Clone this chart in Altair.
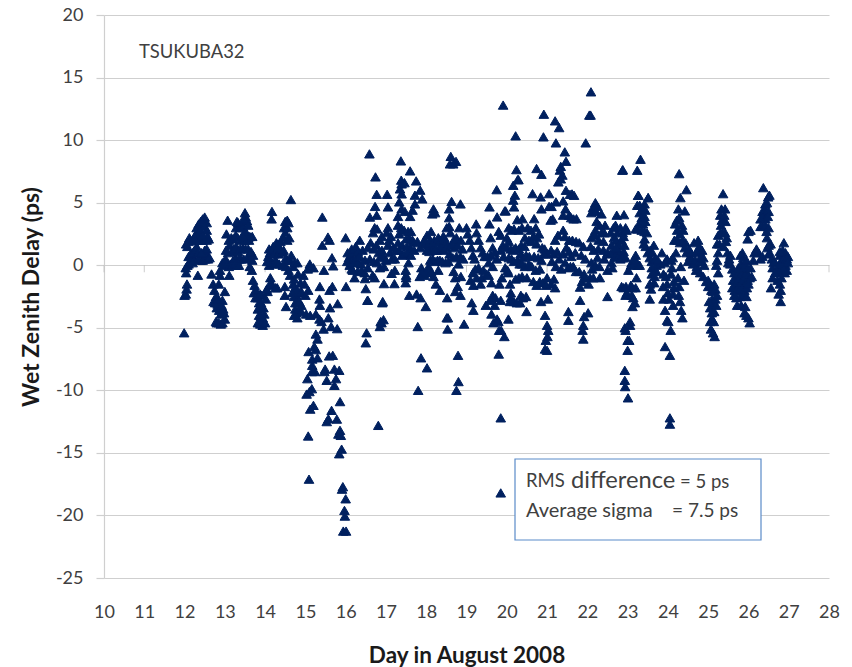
import altair as alt
import pandas as pd

DAY_12 = [(11.99,-5.4),(12.0,-2.4),(12.03,-2.3),(12.05,-1.9),(12.06,-1.5),(12.04,-0.6),(12.03,-0.2),(12.07,0.0),(12.1,0.1),(12.13,0.3),(12.17,0.3),(12.2,0.5),(12.25,0.5),(12.1,0.7),(12.15,0.9),(12.2,1.0),(12.25,1.2),(12.07,1.5),(12.04,1.7),(12.1,1.9),(12.12,2.2),(12.3,1.5),(12.33,1.0),(12.36,0.6),(12.4,0.4),(12.45,0.4),(12.48,0.5),(12.52,0.5),(12.55,0.9),(12.58,0.5),(12.5,1.2),(12.55,1.3),(12.2,2.0),(12.25,2.3),(12.3,2.6),(12.35,2.1),(12.4,2.0),(12.45,2.0),(12.5,2.1),(12.55,2.0),(12.6,2.1),(12.3,3.0),(12.35,3.3),(12.4,3.5),(12.45,3.7),(12.5,3.85),(12.55,3.4),(12.5,3.1),(12.55,2.8),(12.57,2.3),(12.28,2.0),(12.38,2.8),(12.44,2.4),(12.33,-0.8),(12.2,0.2),(12.42,1.0),(12.62,0.6)]
DAY_12B = [(12.67,-0.7),(12.88,-0.4),(12.71,-1.5),(12.74,-2.0),(12.78,-2.5),(12.82,-3.1),(12.86,-3.6),(12.72,-2.9),(12.9,-3.9),(12.8,-4.6),(12.85,-4.6),(12.9,-4.7),(12.94,-4.6),(13.0,-4.3),(12.76,-3.0),(12.8,-3.4),(12.92,-3.2),(12.96,-3.5),(12.98,-3.8),(13.0,-2.1),(12.85,-1.5),(13.11,-0.8),(12.88,-0.8),(12.94,-2.8),(12.84,-2.7),(12.78,-4.5)]
DAY_13 = [(12.94,0.2),(12.98,0.0),(13.02,0.5),(13.06,0.1),(13.1,-0.1),(13.14,0.1),(13.2,0.3),(13.25,0.6),(13.3,0.4),(13.35,0.5),(13.4,0.5),(13.47,0.5),(13.55,0.6),(13.62,0.6),(13.68,0.4),(13.7,0.8),(13.03,1.2),(13.08,1.0),(13.12,1.6),(13.18,1.1),(13.22,1.3),(13.28,1.5),(13.33,1.1),(13.38,1.3),(13.45,1.4),(13.52,1.3),(13.58,1.3),(13.65,1.1),(13.1,2.0),(13.16,2.2),(13.2,2.1),(13.27,2.4),(13.32,2.2),(13.4,2.0),(13.5,2.0),(13.58,2.2),(13.6,2.0),(13.04,2.5),(13.28,3.0),(13.33,3.4),(13.38,3.0),(13.42,3.3),(13.45,3.1),(13.5,2.6),(13.55,2.5),(13.62,2.3),(13.68,2.3),(13.07,3.6),(13.3,3.5),(13.5,3.6),(13.55,3.55),(13.52,3.85),(13.5,4.2),(13.46,3.7),(13.58,3.2),(13.44,2.4),(13.18,0.0),(13.25,0.1),(13.3,0.0),(13.35,0.0),(13.62,-0.1)]
DAY_13B = [(13.67,-0.4),(13.7,-1.2),(13.74,-1.6),(13.72,-2.2),(13.78,-2.0),(13.76,-2.6),(13.82,-2.6),(13.85,-3.0),(13.88,-2.3),(13.92,-2.4),(13.82,-3.5),(13.85,-3.4),(13.92,-3.3),(13.96,-3.4),(14.02,-2.7),(14.06,-2.1),(13.85,-4.0),(13.9,-4.1),(13.94,-4.2),(13.98,-3.9),(13.82,-4.6),(13.88,-4.7),(13.94,-4.8),(14.0,-4.6),(13.9,-3.0),(14.04,-1.9),(14.1,-1.6),(14.17,-1.5),(14.13,-1.0),(14.26,-1.8),(14.3,-1.8)]
DAY_14 = [(14.1,0.0),(14.15,0.3),(14.2,0.1),(14.25,0.4),(14.3,0.2),(14.35,0.1),(14.05,0.3),(14.08,0.7),(14.12,1.0),(14.17,1.2),(14.22,0.9),(14.27,1.2),(14.33,0.9),(14.38,1.3),(14.1,1.3),(14.2,1.5),(14.28,1.8),(14.33,1.5),(14.38,1.9),(14.42,1.0),(14.46,1.2),(14.52,0.6),(14.45,2.2),(14.5,2.6),(14.55,2.0),(14.47,3.0),(14.55,3.0),(14.58,3.4),(14.5,3.5),(14.55,3.6),(14.16,3.7),(14.17,4.3),(14.6,2.2),(14.62,0.4),(14.55,0.4),(14.7,-0.1),(14.65,0.8),(14.73,0.2),(14.8,0.2),(14.64,5.25),(14.44,0.0),(14.52,-0.1)]
DAY_14B = [(14.49,-1.7),(14.49,-2.4),(14.52,-3.3),(14.58,-0.4),(14.62,-0.8),(14.72,-1.1),(14.82,-0.7),(14.7,-1.5),(14.74,-1.8),(14.8,-2.0),(14.68,-2.2),(14.72,-2.5),(14.78,-2.4),(14.85,-2.2),(14.9,-2.1),(14.88,-1.4),(14.95,-0.8),(14.75,-3.0),(14.8,-3.0),(14.85,-2.9),(14.9,-3.2),(14.75,-3.5),(14.78,-3.8),(14.85,-3.6),(14.9,-3.7),(14.72,-4.0),(14.8,-4.2),(15.0,-2.4),(15.07,-2.0),(15.11,0.1),(15.2,-0.2),(14.98,-1.5),(15.12,-4.0),(15.06,-0.3),(15.02,-3.9)]
DAY_15 = [(15.07,-13.65),(15.09,-17.1),(15.05,-9.07),(15.03,-10.3),(15.1,-10.1),(15.16,-9.87),(15.12,-11.5),(15.2,-11.2),(15.16,-8.5),(15.24,-8.5),(15.17,-8.0),(15.17,-7.5),(15.3,-7.4),(15.22,-6.5),(15.26,-6.75),(15.26,-5.5),(15.3,-5.9),(15.45,-5.1),(15.4,-4.5),(15.35,-4.3),(15.26,-3.9),(15.36,-3.2),(15.35,-2.7),(15.36,-1.7),(15.6,-2.0),(15.67,-1.7),(15.46,-0.4),(15.69,-0.05),(16.01,-1.7),(15.8,-3.07),(15.61,-3.4),(15.57,-4.2),(15.64,-4.9),(15.79,-5.07),(15.59,-7.25),(15.68,-7.2),(15.49,-8.3),(15.47,-8.5),(15.53,-9.2),(15.72,-8.3),(15.84,-8.4),(15.76,-9.07),(15.72,-9.6),(15.86,-10.9),(15.65,-11.6),(15.78,-12.3),(15.53,-12.5),(15.57,-12.27),(15.86,-13.2),(15.82,-13.5),(15.88,-13.6),(15.9,-14.7),(15.84,-15.07),(15.93,-17.7),(15.91,-17.9),(16.0,-18.67),(15.97,-19.6),(15.98,-20.05),(15.94,-21.25),(16.01,-21.25),(15.42,3.85),(15.56,2.25),(15.6,2.0),(15.66,0.6),(15.42,1.6),(15.08,-6.9)]
DAY_16 = [(16.81,-12.8),(16.52,-5.4),(16.5,-6.2),(16.94,-4.35),(16.85,-4.9),(16.89,-4.6),(16.55,-2.8),(16.5,-1.87),(16.91,-3.0),(16.95,-1.47),(17.21,-1.47),(16.48,-1.07),(16.67,-0.8),(17.14,-0.65),(16.85,-0.2),(16.0,2.2),(16.05,1.0),(16.08,0.6),(16.12,0.8),(16.15,0.3),(16.04,0.3),(16.1,0.0),(16.15,-0.3),(16.2,0.2),(16.25,0.5),(16.3,0.2),(16.2,1.0),(16.15,1.3),(16.25,1.5),(16.3,1.1),(16.35,0.7),(16.18,-0.4),(16.22,-1.0),(16.3,-0.5),(16.38,0.1),(16.35,2.0),(16.42,1.2),(16.48,0.4),(16.4,-0.4),(16.47,-0.6),(16.55,-0.2),(16.6,0.5),(16.6,3.85),(16.59,8.9),(16.74,7.06),(16.77,5.67),(17.03,5.67),(16.73,4.7),(17.05,4.66),(16.77,4.0),(16.72,3.0),(16.68,2.6),(16.78,2.9),(16.85,2.0),(16.9,2.3),(16.62,1.8),(16.55,1.4),(16.7,1.3),(16.76,1.6),(16.82,1.0),(16.9,1.2),(16.95,0.7),(16.7,0.3),(16.78,0.2),(16.85,0.6),(16.95,-0.1),(17.0,0.4),(17.05,1.6),(17.02,2.6),(17.05,3.0),(17.08,2.0),(17.1,1.0),(17.15,0.5),(17.12,2.3),(17.18,1.4),(17.22,0.5),(17.22,-0.4),(16.92,-2.9),(16.87,-4.5),(16.54,-2.8),(16.72,-1.0)]
DAY_17 = [(17.37,8.34),(17.6,7.54),(17.75,6.74),(17.38,6.8),(17.39,6.5),(17.46,6.6),(17.35,6.1),(17.39,5.7),(17.85,6.0),(17.72,5.6),(17.9,5.3),(17.33,5.06),(17.72,4.9),(17.66,4.4),(17.39,4.5),(17.47,4.3),(17.6,3.9),(17.3,3.9),(17.3,3.2),(17.38,3.0),(17.33,2.5),(17.45,2.8),(17.55,2.7),(17.62,2.7),(17.5,2.1),(17.58,2.2),(17.66,2.0),(17.3,1.8),(17.4,1.6),(17.52,1.5),(17.6,1.4),(17.7,1.2),(17.25,1.2),(17.33,1.2),(17.4,0.8),(17.45,0.9),(17.55,1.0),(17.62,0.8),(17.7,1.8),(17.78,1.9),(17.85,1.4),(17.92,1.7),(17.49,-1.4),(17.58,-2.4),(17.76,-2.3),(17.86,-2.6),(17.99,-3.3),(17.79,-4.9),(17.49,-0.4),(17.5,-0.8),(17.56,0.2),(17.88,-0.2),(17.9,-0.6),(17.96,-0.8),(18.02,-0.6),(18.06,-0.1),(17.87,-7.4),(18.02,-8.2),(17.8,-10.0),(17.5,-1.0),(17.84,-0.9)]
DAY_18 = [(18.18,4.5),(18.22,4.2),(18.15,4.1),(18.63,5.1),(18.85,4.9),(18.57,4.5),(18.57,3.8),(18.61,8.7),(18.59,8.1),(18.74,8.3),(18.67,8.1),(17.95,2.0),(18.0,1.8),(18.05,1.6),(18.1,2.0),(18.15,1.6),(18.2,2.0),(18.25,1.8),(18.3,2.2),(18.35,2.0),(18.4,1.7),(18.45,2.2),(18.5,1.8),(18.02,2.4),(18.08,1.1),(18.14,1.2),(18.2,1.2),(18.26,1.2),(18.32,1.3),(18.38,1.4),(18.44,1.2),(18.5,1.4),(18.02,1.2),(18.1,0.4),(18.16,0.5),(18.22,0.3),(18.28,0.4),(18.34,0.4),(18.4,0.3),(18.48,0.2),(18.55,0.3),(18.12,2.7),(18.42,2.3),(18.51,3.0),(18.57,3.1),(18.6,2.6),(18.68,2.0),(18.62,1.6),(18.7,1.4),(18.75,2.2),(18.78,1.6),(18.82,3.0),(18.86,2.0),(18.9,1.3),(18.58,0.9),(18.66,0.6),(18.75,0.7),(18.8,0.1),(18.85,0.7),(18.92,0.5),(18.24,-1.5),(18.34,-2.0),(18.52,-2.6),(18.51,-4.2),(18.53,-5.1),(18.3,-0.4),(18.12,-0.5),(18.18,-0.9),(18.68,-0.5),(18.72,-1.0),(18.78,-1.7),(18.72,-2.1),(18.85,-2.4),(18.94,-4.7),(18.79,-7.2),(18.8,-9.3),(18.75,-10.0),(18.54,-4.2),(18.86,-0.9)]
DAY_19 = [(19.57,4.66),(19.75,6.04),(19.97,4.34),(19.76,3.86),(19.57,3.3),(19.0,3.0),(19.03,2.5),(19.08,2.0),(19.12,1.4),(19.16,0.8),(19.2,0.5),(19.25,2.6),(19.3,2.0),(19.35,1.4),(19.4,1.0),(19.45,0.7),(19.24,3.3),(19.3,-0.2),(19.22,-0.3),(19.16,-0.6),(19.1,-1.2),(19.25,-1.0),(19.17,-1.6),(19.13,-3.0),(19.17,-3.6),(19.48,-3.2),(19.62,-3.9),(19.76,-4.3),(19.67,-4.6),(19.81,-5.2),(19.94,-5.7),(19.6,2.2),(19.65,1.4),(19.6,0.8),(19.7,1.0),(19.55,0.2),(19.52,0.7),(19.65,-0.1),(19.75,0.5),(19.8,2.7),(19.85,2.4),(19.9,1.6),(19.85,1.2),(19.92,0.7),(19.5,-0.7),(19.42,-0.4),(19.38,-1.0),(19.35,-1.5),(19.55,-0.8),(19.62,-1.4),(19.65,-2.4),(19.72,-2.6),(19.58,-2.8),(19.82,-1.5),(19.88,-1.0),(19.96,-0.2),(20.02,-0.4),(19.85,-18.2),(19.85,-12.2),(19.8,-7.1),(19.86,-5.2),(19.79,-4.5),(19.91,12.8),(19.95,4.34),(19.7,-3.2),(19.85,-2.8)]
DAY_20 = [(20.24,7.64),(20.27,6.84),(20.16,6.39),(20.2,5.6),(20.16,5.2),(20.18,4.66),(20.74,7.73),(20.64,5.72),(20.92,12.07),(20.91,10.26),(20.22,10.34),(20.86,7.27),(20.29,6.84),(20.84,5.46),(20.26,3.64),(20.39,3.72),(20.68,3.72),(20.05,3.0),(20.12,2.8),(20.18,2.9),(20.3,2.8),(20.38,3.0),(20.52,3.0),(20.6,2.8),(20.72,3.0),(20.8,2.5),(20.66,2.3),(20.75,2.2),(20.45,2.2),(20.55,2.0),(20.62,1.9),(20.74,1.7),(20.0,1.4),(20.05,1.9),(20.1,1.3),(20.16,1.2),(20.22,1.4),(20.3,1.3),(20.36,1.6),(20.44,1.5),(20.88,1.4),(20.94,1.3),(21.0,0.9),(20.05,0.6),(20.12,0.5),(20.18,0.3),(20.27,0.4),(20.34,0.9),(20.4,0.6),(20.48,0.8),(20.56,0.7),(20.68,0.7),(20.78,0.6),(20.86,0.4),(20.92,0.9),(20.32,0.1),(20.38,0.1),(20.45,-0.1),(20.55,0.1),(20.62,-0.1),(20.72,-0.4),(20.82,-0.3),(20.04,-0.6),(20.08,-1.5),(20.1,-2.2),(20.22,-1.1),(20.3,-1.0),(20.38,-0.9),(20.5,-1.0),(20.66,-1.3),(20.74,-1.6),(20.82,-1.3),(20.9,-1.4),(20.98,-1.6),(20.1,-2.6),(20.18,-2.9),(20.25,-3.0),(20.35,-2.4),(20.4,-2.6),(20.48,-2.5),(20.49,-3.7),(20.33,-3.0),(20.08,-2.9),(20.04,-4.3),(20.95,-4.0),(20.95,-6.7),(21.0,-6.8),(20.97,-6.0),(21.0,-4.8),(21.03,-5.2),(21.01,-5.7),(20.85,-2.9),(20.0,2.2),(20.86,4.5)]
DAY_21 = [(21.2,11.54),(21.3,11.0),(21.22,9.78),(21.44,9.06),(21.47,8.31),(21.34,7.9),(21.32,7.6),(21.38,7.2),(21.34,6.9),(21.28,6.66),(21.05,5.72),(21.47,5.99),(21.57,5.67),(21.67,5.59),(21.62,5.7),(21.11,4.7),(21.22,5.06),(21.4,5.14),(21.05,4.7),(21.46,4.5),(21.4,4.0),(21.09,3.6),(21.14,3.7),(21.55,4.0),(21.6,3.8),(21.66,3.7),(21.73,3.72),(21.2,2.0),(21.27,2.4),(21.4,2.8),(21.44,2.3),(21.55,2.0),(21.63,2.0),(21.72,1.9),(21.8,1.8),(21.9,1.5),(21.1,1.2),(21.17,0.9),(21.25,1.1),(21.3,0.5),(21.4,0.9),(21.48,1.4),(21.55,1.1),(21.6,0.7),(21.7,1.0),(21.85,0.8),(21.95,0.5),(21.12,0.3),(21.22,-0.1),(21.35,-0.3),(21.45,0.2),(21.52,-0.2),(21.58,-0.1),(21.65,-0.1),(21.72,-0.5),(21.8,-0.5),(21.92,-0.7),(21.0,-1.0),(21.1,-1.5),(21.17,-1.1),(21.2,-1.8),(21.82,-1.75),(21.82,-2.8),(21.87,-1.3),(21.92,-1.0),(21.53,-3.7),(21.53,-4.4),(21.92,-4.1),(21.9,-4.8),(21.88,-5.2),(21.9,-5.9),(22.02,-3.8),(21.02,-2.7)]
DAY_22 = [(22.09,13.86),(22.05,12.0),(22.08,12.0),(21.96,9.78),(22.88,7.64),(22.87,7.59),(22.2,5.0),(22.14,4.6),(22.25,4.7),(22.1,4.2),(22.22,4.3),(22.35,4.1),(22.73,4.0),(22.91,4.04),(22.23,3.5),(22.3,3.2),(22.44,3.2),(22.2,2.8),(22.35,2.6),(22.42,2.6),(22.1,2.2),(22.18,2.4),(22.28,2.0),(22.4,1.9),(22.08,1.5),(22.16,1.2),(22.27,1.3),(22.4,1.2),(22.5,1.0),(22.62,1.0),(22.7,3.2),(22.75,2.6),(22.82,3.0),(22.88,2.6),(22.72,2.0),(22.78,1.6),(22.85,2.0),(22.92,1.6),(22.7,1.2),(22.8,1.0),(22.9,1.1),(22.68,0.7),(22.75,0.6),(22.82,0.5),(22.88,0.6),(22.95,0.6),(22.1,0.2),(22.25,0.6),(22.2,0.0),(22.12,-0.3),(22.3,-0.1),(22.42,0.5),(22.6,0.2),(22.62,-0.2),(22.5,-0.4),(22.07,-1.0),(22.15,-1.0),(22.03,-1.5),(22.31,-1.0),(22.5,-2.5),(22.85,-1.7),(22.9,-1.8),(22.96,-1.7),(22.98,-2.2),(22.95,-5.2),(22.57,0.9),(22.65,3.0),(22.58,2.6),(22.66,2.2),(22.6,1.6),(22.9,2.3),(22.95,3.0),(22.97,2.8),(22.71,1.4)]
DAY_23 = [(23.32,8.47),(23.24,7.59),(23.26,5.59),(23.51,5.4),(23.27,5.59),(23.51,5.4),(23.24,4.79),(23.3,4.8),(23.42,4.9),(23.3,4.2),(23.38,4.5),(23.44,4.4),(23.35,3.8),(23.42,3.9),(23.3,3.4),(23.38,3.3),(23.44,3.5),(23.2,2.9),(23.25,2.9),(23.35,2.8),(23.42,2.7),(23.48,2.6),(23.42,2.1),(23.45,1.5),(23.5,1.0),(23.55,0.6),(23.4,1.7),(23.56,1.2),(23.6,0.3),(23.65,1.6),(23.62,1.0),(23.68,0.5),(23.72,0.0),(23.6,-0.2),(23.2,0.8),(23.15,0.4),(23.25,0.0),(23.1,0.2),(23.08,0.0),(23.2,0.4),(23.3,0.0),(23.02,-0.4),(23.6,-0.7),(23.67,-0.9),(23.72,-0.5),(23.66,-1.4),(23.55,-1.5),(23.58,-1.9),(23.55,-2.7),(23.22,-1.0),(23.08,-1.6),(23.12,-1.8),(23.2,-1.8),(23.1,-2.4),(23.14,-2.6),(23.18,-3.0),(23.12,-3.3),(22.95,-2.4),(23.01,-10.6),(22.93,-9.2),(22.94,-9.7),(22.93,-8.4),(23.0,-6.8),(23.0,-6.0),(22.93,-5.0),(23.06,-4.8),(23.06,-4.5),(23.04,-6.0),(23.93,-6.5),(23.81,0.1),(23.85,1.0),(23.92,0.2),(23.98,0.5),(23.89,-0.7),(23.95,-0.9),(23.89,-2.7),(23.93,-3.6),(23.98,-4.4),(24.01,-4.5),(24.05,-7.2),(24.07,-5.2),(24.05,-12.2),(24.05,-12.7),(23.98,-1.5),(24.0,-2.2),(24.03,-2.7),(23.88,-1.7),(23.75,0.4)]
DAY_24 = [(24.28,7.32),(24.46,6.04),(24.31,5.4),(24.42,4.34),(24.26,4.5),(24.18,3.3),(24.22,3.6),(24.28,3.8),(24.35,3.2),(24.23,2.8),(24.3,2.5),(24.38,2.8),(24.16,2.0),(24.24,2.0),(24.3,1.8),(24.37,2.0),(24.44,1.8),(24.42,1.4),(24.46,1.0),(24.5,0.3),(24.55,0.7),(24.6,0.4),(24.52,1.3),(24.58,1.0),(24.65,1.8),(24.7,1.0),(24.75,1.2),(24.62,0.1),(24.68,0.4),(24.72,-0.1),(24.78,0.3),(24.82,0.7),(24.85,0.3),(24.75,2.0),(24.78,1.5),(24.85,1.2),(24.88,0.6),(24.9,0.0),(24.7,-0.4),(24.8,-0.6),(24.88,-0.9),(24.95,-1.3),(24.2,1.0),(24.12,0.6),(24.08,0.4),(24.08,-0.7),(24.15,-1.3),(24.13,-2.3),(24.25,-1.0),(24.1,-0.2),(24.13,-3.2),(24.27,-2.4),(24.3,-2.9),(24.33,-3.6),(24.36,-4.2),(24.4,-1.2),(24.28,-1.7),(25.0,-1.7),(24.32,-0.1),(24.15,-1.8)]
DAY_25 = [(25.37,5.72),(25.42,4.5),(25.33,4.5),(25.3,4.0),(25.34,3.6),(25.4,4.0),(25.43,3.5),(25.32,3.2),(25.25,2.4),(25.3,2.6),(25.36,2.6),(25.42,2.6),(25.46,2.2),(25.22,1.7),(25.28,1.7),(25.38,1.5),(25.44,1.9),(25.48,1.0),(25.25,1.0),(25.22,0.4),(25.2,0.0),(25.5,0.2),(25.52,0.5),(25.55,0.1),(25.6,-0.3),(25.55,0.8),(25.05,-1.5),(25.08,-2.0),(25.12,-2.1),(25.15,-1.5),(25.18,-1.9),(25.1,-2.7),(25.13,-3.1),(25.18,-2.7),(25.22,-2.4),(25.05,-3.4),(25.09,-3.8),(25.15,-3.7),(25.2,-3.2),(25.05,-4.5),(25.1,-4.3),(25.14,-4.5),(25.07,-5.1),(25.12,-5.4),(25.16,-5.7),(25.0,-1.2),(25.02,-2.9),(25.25,-0.6)]
DAY_25B = [(25.65,-0.6),(25.7,-0.9),(25.75,-0.6),(25.8,-0.8),(25.85,-0.5),(25.9,-0.8),(25.95,-0.6),(26.0,-0.8),(25.62,-1.2),(25.68,-1.5),(25.74,-1.2),(25.8,-1.4),(25.86,-1.2),(25.92,-1.4),(25.98,-1.2),(26.03,-1.0),(25.6,-1.8),(25.66,-2.0),(25.72,-1.9),(25.78,-2.0),(25.84,-1.9),(25.9,-2.0),(25.96,-1.8),(26.0,-1.5),(25.65,-2.4),(25.7,-2.6),(25.8,-2.5),(25.88,-2.4),(25.95,-2.5),(25.72,-3.2),(25.82,-3.2),(25.92,-3.3),(25.95,-4.0),(25.9,-3.8),(26.0,-4.2),(26.03,-4.6),(25.75,-0.2),(25.82,0.1),(25.87,0.6),(25.92,0.0),(25.98,-0.2),(25.8,0.8),(25.95,0.4),(26.05,-0.2),(26.08,-0.9),(26.0,2.7),(26.05,2.8),(25.98,2.1),(25.85,1.0)]
DAY_26 = [(26.37,6.2),(26.49,5.46),(26.52,5.6),(26.46,5.0),(26.42,4.9),(26.35,4.3),(26.4,4.4),(26.45,4.3),(26.5,4.3),(26.3,3.7),(26.36,3.8),(26.42,3.7),(26.48,3.9),(26.3,3.1),(26.35,3.1),(26.42,3.2),(26.5,3.0),(26.45,2.7),(26.46,2.2),(26.5,1.6),(26.53,1.0),(26.47,1.4),(26.55,1.7),(26.5,0.9),(26.58,0.5),(26.62,0.2),(26.6,-0.2),(26.65,0.3),(26.25,1.0),(26.2,1.3),(26.15,1.0),(26.3,0.5),(26.35,0.7),(26.12,0.4),(26.75,0.0),(26.72,-1.2),(26.78,-1.5),(26.75,-2.3),(26.8,-2.0),(26.72,-0.5),(26.8,-0.5),(26.82,-1.0),(26.8,-2.9),(26.88,1.8),(26.85,1.2),(26.92,1.0),(26.78,0.8),(26.82,0.4),(26.88,0.6),(26.95,0.5),(26.98,0.7),(26.85,-0.1),(26.92,0.0),(26.98,0.2),(26.9,-0.6),(26.95,-0.4),(26.88,-0.3),(26.78,1.1),(26.66,-0.6),(26.6,-1.0),(26.56,-1.8)]

ALL_GROUPS = [DAY_12, DAY_12B, DAY_13, DAY_13B, DAY_14, DAY_14B, DAY_15, DAY_16, DAY_17, DAY_18,
              DAY_19, DAY_20, DAY_21, DAY_22, DAY_23, DAY_24, DAY_25, DAY_25B, DAY_26]
points = pd.DataFrame([p for g in ALL_GROUPS for p in g], columns=["day", "wzd"])

X_TICKS = list(range(10, 29))
Y_TICKS = list(range(-25, 21, 5))
FONT = "Lato"
TXT = "#404040"
GRID = "#cfcfcf"

x_scale = alt.Scale(domain=[10, 28], nice=False, zero=False)
y_scale = alt.Scale(domain=[-25, 20], nice=False, zero=False)

base = (
    alt.Chart(points)
    .mark_point(shape="triangle-up", filled=True, size=92, color="#00205f", opacity=1,
                stroke="#00205f", strokeWidth=1)
    .encode(
        x=alt.X("day:Q", scale=x_scale,
                axis=alt.Axis(values=X_TICKS, format="d", grid=False, domain=False, ticks=False,
                              labelFlush=False, labelPadding=25, labelFontSize=18, labelColor=TXT,
                              labelFont=FONT, title="Day in August 2008", titleFont=FONT,
                              titleFontSize=22.5, titleFontWeight="bold", titleColor="#1a1a1a",
                              titlePadding=23)),
        y=alt.Y("wzd:Q", scale=y_scale,
                axis=alt.Axis(values=Y_TICKS, format="d", grid=True, gridColor=GRID, gridWidth=1.2,
                              labelExpr="replace(datum.label, '\u2212', '-')", labelFlush=False,
                              domain=True, domainColor=GRID, domainWidth=1.2, tickColor=GRID,
                              tickSize=8, tickWidth=1.2, labelPadding=13, labelFontSize=18,
                              labelColor=TXT, labelFont=FONT, title="Wet Zenith Delay (ps)",
                              titleFont=FONT, titleFontSize=23, titleFontWeight="bold",
                              titleColor="#1a1a1a", titlePadding=12)),
    )
)

ticks = (
    alt.Chart(pd.DataFrame({"day": X_TICKS, "zero": [0] * len(X_TICKS)}))
    .mark_tick(orient="vertical", size=7, thickness=1, color="#b8b8b8", yOffset=3.5)
    .encode(x=alt.X("day:Q", scale=x_scale), y=alt.Y("zero:Q", scale=y_scale))
)

anno_box = (
    alt.Chart(pd.DataFrame({"a": [0]}))
    .mark_rect(fill="white", stroke="#5b8bc9", strokeWidth=1.2)
    .encode(x=alt.value(411), x2=alt.value(657), y=alt.value(444), y2=alt.value(525))
)

def label(text, px, py, size, weight="normal"):
    return (
        alt.Chart(pd.DataFrame({"t": [text]}))
        .mark_text(align="left", baseline="middle", font=FONT, fontSize=size, color=TXT, fontWeight=weight)
        .encode(text="t:N", x=alt.value(px), y=alt.value(py))
    )

chart = (
    alt.layer(
        ticks, base, anno_box,
        label("TSUKUBA32", 35, 37, 18.4),
        label("RMS", 422, 466, 18.5),
        label("difference", 467, 466, 23.7),
        label("= 5 ps", 576, 467, 18.5),
        label("Average sigma", 422, 496, 20),
        label("= 7.5 ps", 568, 496, 19),
    )
    .properties(width=725, height=563, padding={"left": 96, "top": 7, "right": 15, "bottom": 94},
                autosize=alt.AutoSizeParams(type="none"))
    .configure_view(stroke=None)
)

chart.save("out.html", embed_options={"renderer": "svg", "actions": False})
